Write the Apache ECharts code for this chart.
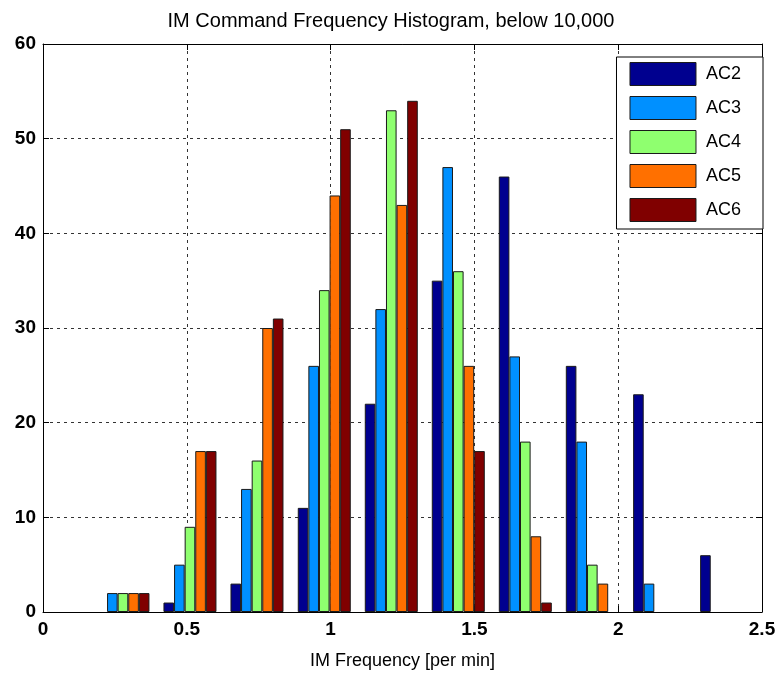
<!DOCTYPE html>
<html>
<head>
<meta charset="utf-8">
<script src="https://cdn.jsdelivr.net/npm/echarts@6/dist/echarts.min.js"></script>
<style>
  html, body { margin: 0; padding: 0; background: #fff; }
  #main { width: 782px; height: 677px; }
</style>
</head>
<body>
<div id="main"></div>
<script>
// bin centres of the histogram (IM frequency, per min)
var binCenters = [0.278, 0.511, 0.744, 0.978, 1.211, 1.444, 1.677, 1.910, 2.144, 2.377];
var seriesNames = ['AC2', 'AC3', 'AC4', 'AC5', 'AC6'];
var ac2 = [0, 1, 3, 11, 22, 35, 46, 26, 23, 6];
var ac3 = [2, 5, 13, 26, 32, 47, 27, 18, 3, 0];
var ac4 = [2, 9, 16, 34, 53, 36, 18, 5, 0, 0];
var ac5 = [2, 17, 30, 44, 43, 26, 8, 3, 0, 0];
var ac6 = [2, 17, 31, 51, 54, 17, 1, 0, 0, 0];
var colors = ['#00008f', '#0090ff', '#8fff6f', '#ff7000', '#800000'];

var font = 'Liberation Sans, Arial, sans-serif';
var chart = echarts.init(document.getElementById('main'));

// empty bins are not drawn
function pairs(vals) {
    return vals.map(function (v, i) { return [binCenters[i], v === 0 ? '-' : v]; });
}

var allVals = [ac2, ac3, ac4, ac5, ac6];
var series = seriesNames.map(function (name, i) {
    return {
        name: name,
        type: 'bar',
        xAxisIndex: 0,
        yAxisIndex: 0,
        barWidth: 10.6,
        barGap: '0%',
        itemStyle: { color: colors[i], borderColor: '#1a1a1a', borderWidth: 1 },
        data: pairs(allVals[i])
    };
});

var boxAxisLine = { show: true, onZero: false, lineStyle: { color: '#000', width: 1 } };

option = {
    backgroundColor: '#fff',
    animation: false,
    color: colors,
    title: {
        text: 'IM Command Frequency Histogram, below 10,000',
        left: 'center',
        top: 6,
        textStyle: { fontFamily: font, fontSize: 20, fontWeight: 'normal', color: '#000' }
    },
    grid: { left: 43, right: 20, top: 44, bottom: 65, containLabel: false },
    legend: {
        orient: 'vertical',
        right: 19,
        top: 57,
        padding: [5, 22, 7, 13],
        itemWidth: 66,
        itemHeight: 23,
        itemGap: 10,
        backgroundColor: '#fff',
        borderColor: '#000',
        borderWidth: 1,
        borderRadius: 0,
        icon: 'rect',
        itemStyle: { borderColor: '#1a1a1a', borderWidth: 1 },
        textStyle: { fontFamily: font, fontSize: 18, color: '#000', padding: [0, 0, 0, 5] },
        data: seriesNames
    },
    xAxis: [{
        type: 'value',
        min: 0,
        max: 2.5,
        interval: 0.5,
        name: 'IM Frequency [per min]',
        nameLocation: 'middle',
        nameGap: 40,
        nameTextStyle: { fontFamily: font, fontSize: 18, color: '#000' },
        axisLine: boxAxisLine,
        axisTick: { show: true, inside: true, length: 6, lineStyle: { color: '#000' } },
        axisLabel: { fontFamily: font, fontSize: 19, fontWeight: 'bold', color: '#000', margin: 8 },
        splitLine: { show: true, lineStyle: { color: '#333', type: [3, 4], width: 1 } }
    }, {
        type: 'value',
        position: 'top',
        min: 0,
        max: 2.5,
        interval: 0.5,
        axisLine: boxAxisLine,
        axisTick: { show: true, inside: true, length: 6, lineStyle: { color: '#000' } },
        axisLabel: { show: false },
        splitLine: { show: false }
    }],
    yAxis: [{
        type: 'value',
        min: 0,
        max: 60,
        interval: 10,
        axisLine: boxAxisLine,
        axisTick: { show: true, inside: true, length: 6, lineStyle: { color: '#000' } },
        axisLabel: { fontFamily: font, fontSize: 19, fontWeight: 'bold', color: '#000', margin: 7 },
        splitLine: { show: true, lineStyle: { color: '#333', type: [3, 4], width: 1 } }
    }, {
        type: 'value',
        position: 'right',
        min: 0,
        max: 60,
        interval: 10,
        axisLine: boxAxisLine,
        axisTick: { show: true, inside: true, length: 6, lineStyle: { color: '#000' } },
        axisLabel: { show: false },
        splitLine: { show: false }
    }],
    series: series
};
chart.setOption(option);
</script>
</body>
</html>
